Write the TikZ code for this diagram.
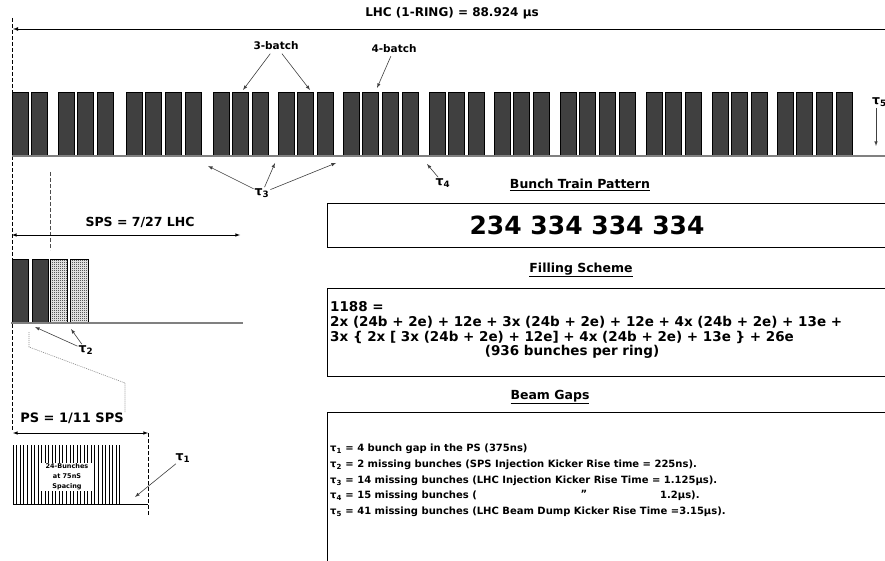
\documentclass[tikz,border=0pt]{standalone}
\usepackage{fontspec}
\setmainfont{DejaVu Sans}
\usetikzlibrary{patterns}
\pgfdeclarepatternformonly{finecheck}{\pgfpointorigin}{\pgfqpoint{2pt}{2pt}}{\pgfqpoint{2pt}{2pt}}{%
  \pgfpathrectangle{\pgfpointorigin}{\pgfqpoint{1pt}{1pt}}%
  \pgfpathrectangle{\pgfqpoint{1pt}{1pt}}{\pgfqpoint{1pt}{1pt}}%
  \pgfusepath{fill}}
\tikzset{
  bunch/.style={draw=black,line width=0.5pt,fill=black!75},
  base/.style={line width=1.5pt,black!50},
  arr/.style={-latex,line width=0.6pt,black!75},
  lbl/.style={font=\bfseries\fontsize{#1}{#1}\selectfont,inner sep=1pt},
  lbl/.default=12,
  dline/.style={line width=0.5pt,dash pattern=on 4pt off 2pt}
}
\begin{document}
\begin{tikzpicture}[x=1pt,y=-1pt]
\useasboundingbox[fill=white] (0,0) rectangle (885,561);
\node[lbl=12] (lhc) at (452,13) {LHC (1-RING) = 88.924 μs};
\coordinate (lhcR) at (885,29); \coordinate (lhcL) at (13,29);
\draw[-latex,line width=0.8pt](lhcR)--(lhcL);
\draw[dline](12,18)--(12,430);
\foreach \x/\n in {12/2,58/3,126/4,213/3,278/3,343/4,429/3,494/3,560/4,646/3,712/3,777/4}
  \foreach \i in {1,...,\n}
    \draw[bunch]({\x+(\i-1)*19.7},92) rectangle ++(16,64);
\draw[base](12,156)--(885,156);
\node[lbl=10.5] (b3) at (276,46) {3-batch};
\node[lbl=10.5] (b4) at (394,49) {4-batch};
\coordinate (b3a) at (243,90); \coordinate (b3b) at (310,90); \coordinate (b4a) at (377,88);
\draw[arr,shorten <=3pt](b3)--(b3a);
\draw[arr,shorten <=3pt](b3)--(b3b);
\draw[arr,shorten <=2pt](b4)--(b4a);
\node[lbl=12.5] (t3) at (262,193) {τ\textsubscript{3}};
\coordinate (g3a) at (208,166); \coordinate (g3b) at (275,163); \coordinate (g3c) at (336,163);
\draw[arr](t3)--(g3a);
\draw[arr](t3)--(g3b);
\draw[arr](t3)--(g3c);
\node[lbl=12.5] (t4) at (443,183) {τ\textsubscript{4}};
\coordinate (g4) at (427,164);
\draw[arr](t4)--(g4);
\node[lbl=12.5,anchor=west] (t5) at (871,102) {τ\textsubscript{5}};
\coordinate (g5) at (876,146);
\draw[arr](t5.south -| g5)--(g5);
% SPS
\draw[dline,black!70](50,172)--(50,250);
\node[lbl=12.5] (sps) at (140,222) {SPS = 7/27 LHC};
\coordinate (spsL) at (12,235); \coordinate (spsR) at (240,235);
\draw[latex-latex,line width=0.6pt](spsL)--(spsR);
\draw[bunch](12,259) rectangle (28,323);
\draw[bunch](32,259) rectangle (48,323);
\draw[line width=0.4pt,pattern=finecheck](50,259) rectangle (67,323);
\draw[line width=0.4pt,pattern=finecheck](70,259) rectangle (88,323);
\draw[base](11,323)--(243,323);
\node[lbl=12.5] (t2) at (86,350) {τ\textsubscript{2}};
\coordinate (g2a) at (35,327); \coordinate (g2b) at (71,329);
\draw[arr](t2)--(g2a);
\draw[arr](t2)--(g2b);
\draw[black!45,line width=0.6pt,dash pattern=on 1pt off 1pt](29,332)--(29,347)--(125,383)--(125,412);
% PS
\node[lbl=13] (ps) at (72,418) {PS = 1/11 SPS};
\coordinate (psL) at (13,433); \coordinate (psR) at (148,433);
\draw[latex-latex,line width=0.6pt](psL)--(psR);
\draw[dline](148,433)--(148,515);
\foreach \i in {0,...,30}
  \draw[line width=0.5pt]({13+\i*3.55},445)--({13+\i*3.55},504);
\draw[line width=0.6pt](13,504)--(148,504);
\node[font=\bfseries\fontsize{6.5}{10}\selectfont,fill=white,align=center,inner sep=1pt,minimum width=54pt] (psbox) at (67,477) {24-Bunches\\at 75nS\\Spacing};
\node[lbl=12.5] (t1) at (183,458) {τ\textsubscript{1}};
\coordinate (g1) at (135,497);
\draw[arr](t1)--(g1);
% boxes
\node[lbl=12.5] (btp) at (580,185) {\underline{Bunch Train Pattern}};
\draw[line width=0.6pt](890,203)--(327,203)--(327,247)--(890,247);
\node[lbl=25] (pat) at (587,225) {234 334 334 334};
\node[lbl=12.5] (fsc) at (581,270) {\underline{Filling Scheme}};
\draw[line width=0.6pt](890,288)--(327,288)--(327,376)--(890,376);
\node[lbl=13.5,anchor=west] (f1) at (329,307) {1188 =};
\node[lbl=13.5,anchor=west] (f2) at (329,322) {2x (24b + 2e) + 12e + 3x (24b + 2e) + 12e + 4x (24b + 2e) + 13e +};
\node[lbl=13.5,anchor=west] (f3) at (329,337) {3x \{ 2x [ 3x (24b + 2e) + 12e] + 4x (24b + 2e) + 13e \} + 26e};
\node[lbl=13.5] (f4) at (572,352) {(936 bunches per ring)};
\node[lbl=12.5] (bgp) at (550,397) {\underline{Beam Gaps}};
\draw[line width=0.6pt](890,412)--(327,412)--(327,566);
\node[lbl=10,anchor=west] (r1) at (329,449) {τ\textsubscript{1} = 4 bunch gap in the PS (375ns)};
\node[lbl=10,anchor=west] (r2) at (329,465) {τ\textsubscript{2} = 2 missing bunches (SPS Injection Kicker Rise time = 225ns).};
\node[lbl=10,anchor=west] (r3) at (329,481) {τ\textsubscript{3} = 14 missing bunches (LHC Injection Kicker Rise Time = 1.125μs).};
\node[lbl=10,anchor=west] (r4) at (329,496) {τ\textsubscript{4} = 15 missing bunches (};
\node[lbl=10] (r4q) at (584,494) {"};
\node[lbl=10,anchor=west] (r4b) at (659,496) {1.2μs).};
\node[lbl=10,anchor=west] (r5) at (329,512) {τ\textsubscript{5} = 41 missing bunches (LHC Beam Dump Kicker Rise Time =3.15μs).};
\end{tikzpicture}
\end{document}
